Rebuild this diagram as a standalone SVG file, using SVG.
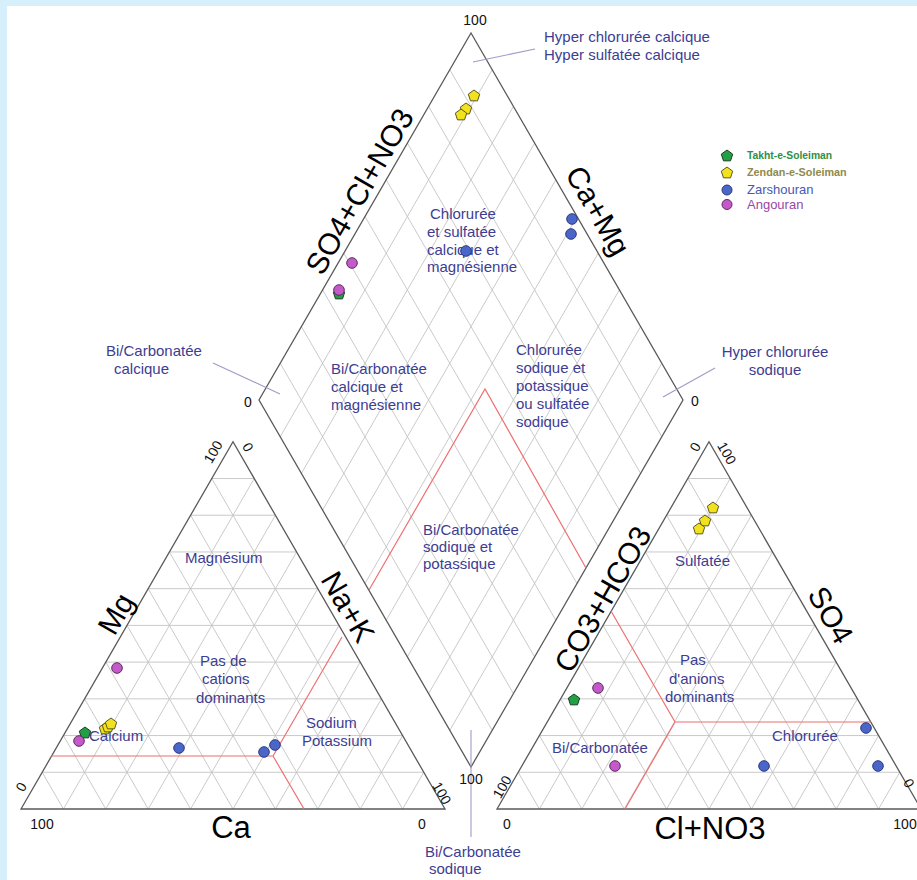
<svg xmlns="http://www.w3.org/2000/svg" xmlns:xlink="http://www.w3.org/1999/xlink" width="917" height="880" viewBox="0 0 917 880">
<style>
.grid{stroke:#c4c4c4;stroke-width:0.9;fill:none}
.edge{stroke:#5a5a5a;stroke-width:1.3;fill:none;stroke-linejoin:miter}
.red{stroke:#ef6f6f;stroke-width:1.2;fill:none}
.call{stroke:#9c9cc8;stroke-width:1.1;fill:none}
.reg{font-family:"Liberation Sans",Arial,sans-serif;font-size:15px;fill:#3d3d92}
.ax{font-family:"Liberation Sans",Arial,sans-serif;font-size:30px;fill:#000;text-anchor:middle}
.num{font-family:"Liberation Sans",Arial,sans-serif;font-size:14px;fill:#111;text-anchor:middle}
.gr{fill:#22a045;stroke:#1d3b22;stroke-width:1}
.ye{fill:#f1e21e;stroke:#5e5520;stroke-width:1}
.bl{fill:#4a66c8;stroke:#2b3a80;stroke-width:1}
.ma{fill:#c45ac9;stroke:#5e2a60;stroke-width:1}
</style>
<defs>
<polygon id="pent" points="0,-6 5.71,-1.85 3.53,4.85 -3.53,4.85 -5.71,-1.85"/>
<g id="triGrid">
<path class="grid" d="M42.2,772.28H423.8M63.4,735.56H402.6M84.6,698.84H381.4M105.8,662.12H360.2M127,625.4H339M148.2,588.68H317.8M169.4,551.96H296.6M190.6,515.24H275.4M211.8,478.52H254.2
M63.4,809L254.2,478.52M105.8,809L275.4,515.24M148.2,809L296.6,551.96M190.6,809L317.8,588.68M233,809L339,625.4M275.4,809L360.2,662.12M317.8,809L381.4,698.84M360.2,809L402.6,735.56M402.6,809L423.8,772.28
M63.4,809L42.2,772.28M105.8,809L63.4,735.56M148.2,809L84.6,698.84M190.6,809L105.8,662.12M233,809L127,625.4M275.4,809L148.2,588.68M317.8,809L169.4,551.96M360.2,809L190.6,515.24M402.6,809L211.8,478.52"/>
<polygon class="edge" points="21,809 445,809 233,441.8"/>
</g>
</defs>

<rect x="0" y="0" width="917" height="880" fill="#d5effb"/>
<rect x="7" y="6" width="910" height="874" fill="#ffffff"/>

<g id="diamond">
<path class="grid" d="M280.2,436.7L492.2,69.7M301.4,473.4L513.4,106.4M322.6,510.1L534.6,143.1M343.8,546.8L555.8,179.8M365,583.5L577,216.5M386.2,620.2L598.2,253.2M407.4,656.9L619.4,289.9M428.6,693.6L640.6,326.6M449.8,730.3L661.8,363.3
M280.2,363.3L492.2,730.3M301.4,326.6L513.4,693.6M322.6,289.9L534.6,656.9M343.8,253.2L555.8,620.2M365,216.5L577,583.5M386.2,179.8L598.2,546.8M407.4,143.1L619.4,510.1M428.6,106.4L640.6,473.4M449.8,69.7L661.8,436.7"/>
<polygon class="edge" points="471,33 683,400 471,767 259,400"/>
</g>

<g id="cation-triangle">
<use xlink:href="#triGrid" href="#triGrid"/>
</g>
<g id="anion-triangle">
<use xlink:href="#triGrid" href="#triGrid" transform="translate(476,0)"/>
</g>

<g id="connectors">
<path class="red" d="M51,756H273M273,756L304,809M273,756L342,637"/>
<path class="red" d="M369,590L485,389L586,568"/>
<path class="red" d="M611,611L675,722M675,722H871M675,722L625,809"/>
<path class="call" d="M473,62L535,49"/>
<path class="call" d="M213,363L280,394"/>
<path class="call" d="M715,368L663,397"/>
<path class="call" d="M471,730V837"/>
</g>

<g id="axis-labels">
<text class="ax" transform="translate(368.5,196.5) rotate(-60)">SO4+Cl+NO3</text>
<text class="ax" transform="translate(589,216) rotate(60)">Ca+Mg</text>
<text class="ax" transform="translate(125,619) rotate(-60)">Mg</text>
<text class="ax" transform="translate(339,612) rotate(60)">Na+K</text>
<text class="ax" x="231" y="838" style="font-size:31px">Ca</text>
<text class="ax" transform="translate(611.6,604.4) rotate(-60)">CO3+HCO3</text>
<text class="ax" transform="translate(821.7,620.3) rotate(60)">SO4</text>
<text class="ax" x="710" y="839" style="font-size:31px">Cl+NO3</text>
</g>

<g id="scale-numbers">
<text class="num" x="475" y="25">100</text>
<text class="num" x="248" y="407">0</text>
<text class="num" x="695" y="406">0</text>
<text class="num" x="471" y="784">100</text>
<text class="num" transform="translate(213,452) rotate(-60)" dy="5">100</text>
<text class="num" transform="translate(248,447) rotate(60)" dy="5">0</text>
<text class="num" transform="translate(21,787) rotate(-60)" dy="5">0</text>
<text class="num" x="42" y="829">100</text>
<text class="num" x="422" y="829">0</text>
<text class="num" transform="translate(442,793) rotate(60)" dy="5">100</text>
<text class="num" transform="translate(695,447) rotate(-60)" dy="5">0</text>
<text class="num" transform="translate(727,453) rotate(60)" dy="5">100</text>
<text class="num" transform="translate(502,787) rotate(-60)" dy="5">100</text>
<text class="num" x="507" y="829">0</text>
<text class="num" x="905" y="829">100</text>
<text class="num" transform="translate(909,783) rotate(60)" dy="5">0</text>
</g>

<g id="region-labels">
<text class="reg" x="544" y="42">Hyper chlorurée calcique</text>
<text class="reg" x="544" y="60">Hyper sulfatée calcique</text>
<text class="reg" x="106" y="356">Bi/Carbonatée</text>
<text class="reg" x="114" y="374">calcique</text>
<text class="reg" x="775" y="357" text-anchor="middle">Hyper chlorurée</text>
<text class="reg" x="775" y="375" text-anchor="middle">sodique</text>
<text class="reg" x="425" y="857">Bi/Carbonatée</text>
<text class="reg" x="429" y="874">sodique</text>
<text class="reg" x="430" y="219">Chlorurée</text>
<text class="reg" x="427" y="237">et sulfatée</text>
<text class="reg" x="427" y="255">calcique et</text>
<text class="reg" x="427" y="272">magnésienne</text>
<text class="reg" x="331" y="374">Bi/Carbonatée</text>
<text class="reg" x="331" y="392">calcique et</text>
<text class="reg" x="331" y="410">magnésienne</text>
<text class="reg" x="516" y="355">Chlorurée</text>
<text class="reg" x="516" y="373">sodique et</text>
<text class="reg" x="516" y="391">potassique</text>
<text class="reg" x="516" y="409">ou sulfatée</text>
<text class="reg" x="516" y="427">sodique</text>
<text class="reg" x="423" y="535">Bi/Carbonatée</text>
<text class="reg" x="423" y="552">sodique et</text>
<text class="reg" x="423" y="569">potassique</text>
<text class="reg" x="185" y="563">Magnésium</text>
<text class="reg" x="200" y="666">Pas de</text>
<text class="reg" x="202" y="684">cations</text>
<text class="reg" x="196" y="703">dominants</text>
<text class="reg" x="89" y="741">Calcium</text>
<text class="reg" x="306" y="728">Sodium</text>
<text class="reg" x="302" y="746">Potassium</text>
<text class="reg" x="675" y="566">Sulfatée</text>
<text class="reg" x="680" y="665">Pas</text>
<text class="reg" x="669" y="684">d'anions</text>
<text class="reg" x="665" y="702">dominants</text>
<text class="reg" x="552" y="753">Bi/Carbonatée</text>
<text class="reg" x="772" y="741">Chlorurée</text>
</g>

<g id="samples">
<use href="#pent" xlink:href="#pent" class="ye" x="474" y="96"/>
<use href="#pent" xlink:href="#pent" class="ye" x="466" y="109"/>
<use href="#pent" xlink:href="#pent" class="ye" x="461" y="115"/>
<circle class="bl" cx="572" cy="219" r="5.3"/>
<circle class="bl" cx="571" cy="234" r="5.3"/>
<circle class="bl" cx="466" cy="251" r="5.3"/>
<circle class="ma" cx="352" cy="263" r="5.3"/>
<use href="#pent" xlink:href="#pent" class="gr" x="339" y="294"/>
<circle class="ma" cx="339" cy="290" r="5.3"/>

<circle class="ma" cx="117" cy="668" r="5.3"/>
<use href="#pent" xlink:href="#pent" class="ye" x="105" y="729"/>
<use href="#pent" xlink:href="#pent" class="ye" x="108" y="727"/>
<use href="#pent" xlink:href="#pent" class="ye" x="111" y="724"/>
<use href="#pent" xlink:href="#pent" class="gr" x="85" y="733"/>
<circle class="ma" cx="79" cy="741" r="5.3"/>
<circle class="bl" cx="179" cy="748" r="5.3"/>
<circle class="bl" cx="264" cy="752" r="5.3"/>
<circle class="bl" cx="275" cy="745" r="5.3"/>

<use href="#pent" xlink:href="#pent" class="ye" x="713" y="508"/>
<use href="#pent" xlink:href="#pent" class="ye" x="705" y="521"/>
<use href="#pent" xlink:href="#pent" class="ye" x="699" y="529"/>
<circle class="ma" cx="598" cy="688" r="5.3"/>
<circle class="ma" cx="615" cy="766" r="5.3"/>
<use href="#pent" xlink:href="#pent" class="gr" x="574" y="700"/>
<circle class="bl" cx="866" cy="728" r="5.3"/>
<circle class="bl" cx="764" cy="766" r="5.3"/>
<circle class="bl" cx="878" cy="766" r="5.3"/>
</g>

<g id="legend">
<use href="#pent" xlink:href="#pent" class="gr" x="727" y="156"/>
<text x="747" y="159" style="font-family:'Liberation Sans',Arial,sans-serif;font-size:10.3px;font-weight:bold;fill:#2f8f46">Takht-e-Soleiman</text>
<use href="#pent" xlink:href="#pent" class="ye" x="727" y="173"/>
<text x="747" y="176" style="font-family:'Liberation Sans',Arial,sans-serif;font-size:10.8px;font-weight:bold;fill:#8f8a4c">Zendan-e-Soleiman</text>
<circle class="bl" cx="727" cy="190" r="5"/>
<text x="747" y="194" style="font-family:'Liberation Sans',Arial,sans-serif;font-size:13px;fill:#4a58b0">Zarshouran</text>
<circle class="ma" cx="727" cy="204.5" r="5"/>
<text x="747" y="209" style="font-family:'Liberation Sans',Arial,sans-serif;font-size:13px;fill:#9a46a8">Angouran</text>
</g>
</svg>
